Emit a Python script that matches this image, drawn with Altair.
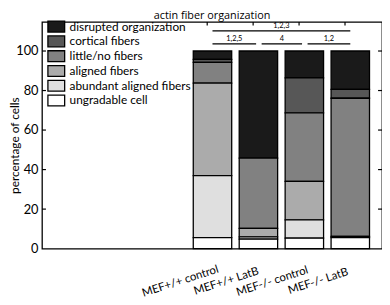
import json
import altair as alt
import pandas as pd

# ---------------- data ----------------
groups = ["MEF+/+ control", "MEF+/+ LatB", "MEF-/- control", "MEF-/- LatB"]
categories = ["disrupted organization", "cortical fibers", "little/no fibers",
              "aligned fibers", "abundant aligned fibers", "ungradable cell"]
colors = ["#1a1a1a", "#575757", "#818181", "#ababab", "#dfdfdf", "#ffffff"]

disrupted = [4.2, 54.2, 13.6, 19.4]
cortical = [1.5, 0.0, 17.7, 4.5]
little_no = [10.5, 35.5, 34.7, 69.9]
aligned = [46.9, 4.3, 19.4, 0.6]
abundant = [31.3, 1.2, 9.3, 0.0]
ungradable = [5.6, 4.8, 5.3, 5.6]

sig_labels = ["1,2,3", "1,2,5", "4", "1,2"]
sig_from = [1, 1, 2, 3]
sig_to = [4, 2, 3, 4]
sig_tier = [2, 1, 1, 1]

y_ticks = [0, 20, 40, 60, 80, 100]

FONT = "Lato"

series = [disrupted, cortical, little_no, aligned, abundant, ungradable]
rows = []
for ci, (cat, vals) in enumerate(zip(categories, series)):
    for gi, g in enumerate(groups):
        if vals[gi] > 0:
            rows.append({"group": g, "pos": gi + 1, "category": cat,
                         "value": vals[gi], "stackorder": len(categories) - ci})
bars_df = pd.DataFrame(rows)

sig_df = pd.DataFrame({"label": sig_labels, "a": sig_from, "b": sig_to, "tier": sig_tier})
tick_df = pd.DataFrame({"v": y_ticks[1:]})
pos_df = pd.DataFrame({"pos": list(range(1, len(groups) + 1))})

W, H = 345, 230
xscale = alt.Scale(domain=[-2.604, 4.583], nice=False, zero=False)
yscale = alt.Scale(domain=[0, 114.7], nice=False, zero=False)

label_expr = "%s[datum.value]" % json.dumps([""] + groups)

bars = alt.Chart(bars_df).mark_bar(size=39, stroke="black", strokeWidth=1.3).encode(
    x=alt.X("pos:Q", scale=xscale,
            axis=alt.Axis(values=[1, 2, 3, 4], labelExpr=label_expr, labelAngle=-18,
                          labelAlign="center", labelBaseline="middle", ticks=False,
                          domain=False, grid=False, title=None, labelOffset=-33,
                          labelPadding=33, labelFont=FONT, labelFontSize=11.5,
                          labelColor="black", labelOverlap=False, labelBound=False)),
    y=alt.Y("value:Q", stack="zero", scale=yscale,
            axis=alt.Axis(values=y_ticks, ticks=False, domain=False, grid=False,
                          labelFont=FONT, labelFontSize=13, labelPadding=4,
                          labelColor="black", title="percentage of cells",
                          titleFont=FONT, titleFontSize=12, titleFontWeight="normal",
                          titleColor="black", titleX=-20.5, titleY=125)),
    color=alt.Color("category:N", scale=alt.Scale(domain=categories, range=colors),
                    legend=alt.Legend(orient="none", legendX=8, legendY=-1.8, title=None,
                                      symbolType="M-1.545,-1H1.545V1H-1.545Z",
                                      symbolSize=121, symbolStrokeColor="black",
                                      symbolStrokeWidth=1.3, symbolOpacity=1,
                                      labelFont=FONT, labelFontSize=12,
                                      labelColor="black", rowPadding=-3.2,
                                      labelOffset=7, padding=0)),
    order=alt.Order("stackorder:Q"),
)

left_ticks = alt.Chart(tick_df).mark_rule(color="black", strokeWidth=1.2).encode(
    y=alt.Y("v:Q", scale=yscale, axis=None), x=alt.value(0), x2=alt.value(4))
right_ticks = alt.Chart(tick_df).mark_rule(color="black", strokeWidth=1.2).encode(
    y=alt.Y("v:Q", scale=yscale, axis=None), x=alt.value(W - 4), x2=alt.value(W))
top_ticks = alt.Chart(pos_df).transform_calculate(tp="datum.pos - 0.115").mark_rule(
    color="black", strokeWidth=1.2).encode(
    x=alt.X("tp:Q", scale=xscale, axis=None), y=alt.value(0), y2=alt.value(3.5))

sig_base = alt.Chart(sig_df).transform_calculate(
    x1="datum.a + (datum.a > 1 ? 0.07 : 0)",
    x2="datum.b - (datum.b < 4 ? 0.05 : 0)",
    xm="(datum.a + (datum.a > 1 ? 0.07 : 0) + datum.b - (datum.b < 4 ? 0.05 : 0)) / 2",
    yl="97 + 6.6 * datum.tier",
    yt="98.6 + 6.6 * datum.tier",
)
sig_lines = sig_base.mark_rule(color="black", strokeWidth=1.2).encode(
    x=alt.X("x1:Q", scale=xscale, axis=None), x2="x2:Q",
    y=alt.Y("yl:Q", scale=yscale, axis=None))
sig_text = sig_base.mark_text(font=FONT, fontSize=7.5, baseline="alphabetic",
                              color="black").encode(
    x=alt.X("xm:Q", scale=xscale, axis=None),
    y=alt.Y("yt:Q", scale=yscale, axis=None), text="label:N")

chart = alt.layer(bars, left_ticks, right_ticks, top_ticks, sig_lines, sig_text).resolve_axis(
    x="independent", y="independent"
).properties(
    width=W, height=H,
    title=alt.TitleParams(text="actin fiber organization", font="Open Sans", fontSize=11,
                          fontWeight="normal", color="black", offset=-0.5, anchor="middle"),
    autosize="none",
    padding={"left": 34.5, "top": 12, "right": 0, "bottom": 53},
).configure_view(stroke="black", strokeWidth=1.3)

chart.save("out.html", embed_options={"renderer": "svg", "actions": False})
